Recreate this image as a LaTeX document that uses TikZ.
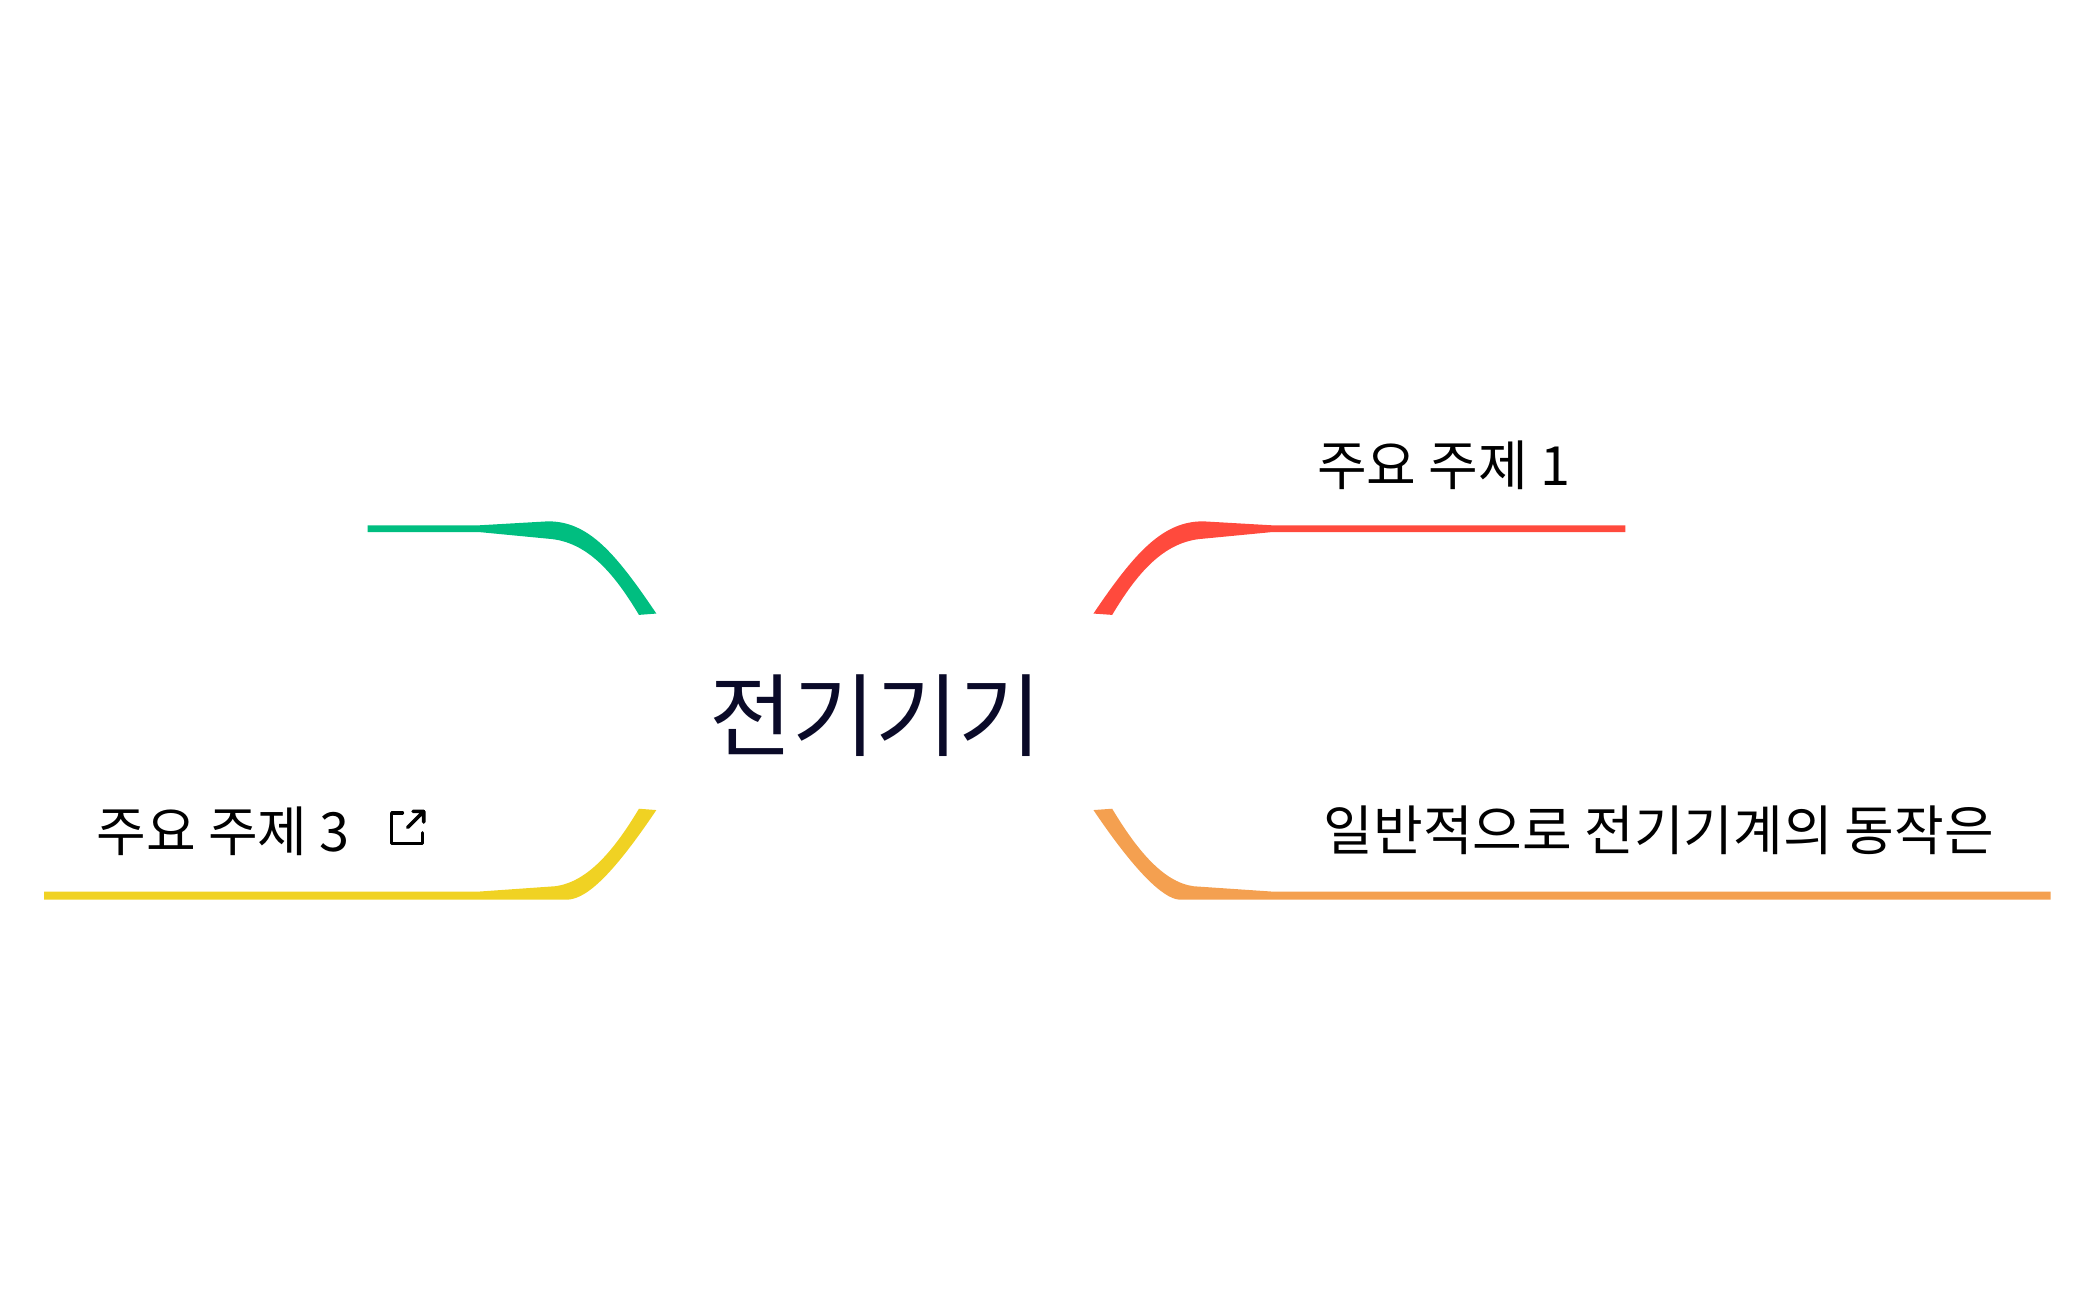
\documentclass[tikz,border=0pt]{standalone}
\usepackage{fontspec}
\newfontfamily\kr{Noto Sans CJK KR}
\definecolor{cgreen}{RGB}{0,190,128}
\definecolor{cred}{RGB}{255,74,61}
\definecolor{cyellow}{RGB}{240,210,35}
\definecolor{corange}{RGB}{244,160,80}
\definecolor{cnavy}{RGB}{10,10,40}
\tikzset{lbl/.style={font=\kr\fontsize{23}{26}\selectfont, text=black, inner sep=0pt},
center/.style={font=\kr\fontsize{38.5}{44}\selectfont, text=cnavy, inner sep=0pt}}
\begin{document}
\begin{tikzpicture}[x=0.02cm,y=-0.02cm]
\useasboundingbox (0,0) rectangle (1568,973);
\node[center] (c) at (655,535) {전기기기};
% green
\fill[cgreen] (491,459) .. controls (460,413) and (440,390) .. (410,390) -- (358,393) -- (275,393) -- (275,398) -- (358,398) -- (410,403) .. controls (440,405) and (460,430) .. (478,460) -- cycle;
% red
\fill[cred] (818,459) .. controls (849,413) and (870,390) .. (900,390) -- (952,393) -- (1216,393) -- (1216,398) -- (952,398) -- (900,403) .. controls (870,405) and (850,430) .. (832,460) -- cycle;
% yellow
\fill[cyellow] (491,606) .. controls (460,652) and (440,672) .. (425,673) -- (358,673) -- (33,673) -- (33,667) -- (358,667) -- (415,663) .. controls (440,660) and (460,635) .. (478,605) -- cycle;
% orange
\fill[corange] (818,606) .. controls (849,652) and (870,672) .. (882,673) -- (952,673) -- (1534,673) -- (1534,667) -- (952,667) -- (893,663) .. controls (870,660) and (850,635) .. (832,605) -- cycle;
\node[lbl] (t1) at (1080,348) {주요 주제 1};
\node[lbl] (t2) at (1241,621) {일반적으로 전기기계의 동작은};
\node[lbl] (t3) at (167,622) {주요 주제 3};
\draw[line width=1.5pt, line cap=round, line join=round] (301,608) -- (293,608) -- (293,631) -- (316,631) -- (316,623);
\draw[line width=1.5pt, line cap=round, line join=round] (305,619) -- (317,607) (309,607) -- (317,607) -- (317,615);
\end{tikzpicture}
\end{document}
